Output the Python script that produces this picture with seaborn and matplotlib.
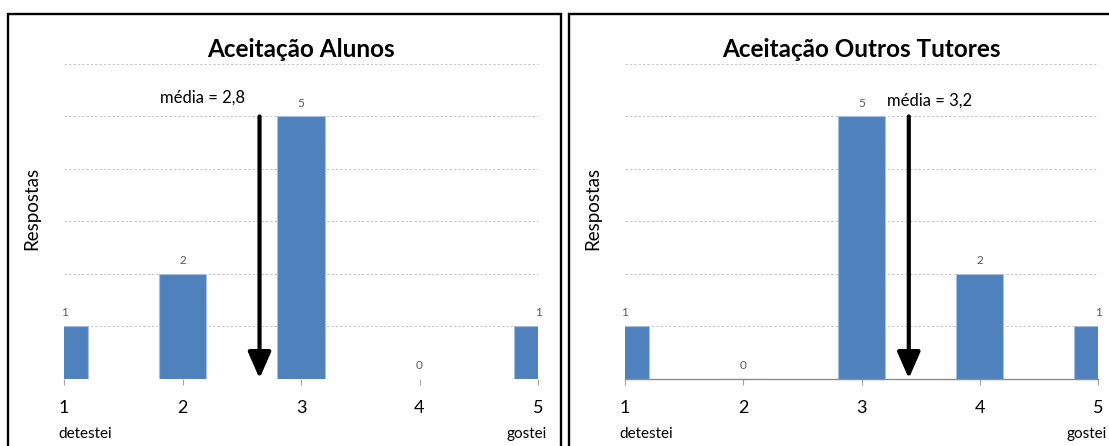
import matplotlib
matplotlib.use("Agg")
import matplotlib.pyplot as plt
from matplotlib.patches import Rectangle
import pandas as pd
import seaborn as sns

# Survey data: answers on a 1-5 scale
scores = [1, 2, 3, 4, 5]
alunos = [1, 2, 5, 0, 1]
tutores = [1, 0, 5, 2, 1]
titles = ["Aceitação Alunos", "Aceitação Outros Tutores"]
mean_labels = ["média = 2,8", "média = 3,2"]
arrow_x = [2.65, 3.4]
scale_ends = ["detestei", "gostei"]

sns.set_theme(style="white")
plt.rcParams["font.family"] = ["Lato", "DejaVu Sans"]

BAR = "#4F81BD"
GRID = "#C8C8C8"

fig = plt.figure(figsize=(11.09, 4.46), dpi=100)
W, H = 1109, 446

def px_axes(x0, x1, ytop, ybot):
    return fig.add_axes([x0 / W, (H - ybot) / H, (x1 - x0) / W, (ybot - ytop) / H])

axes = [px_axes(64, 538, 64, 378.5), px_axes(625, 1098, 64, 378.5)]

# panel frames
for x0, x1 in [(8, 561), (569, 1115)]:
    fig.patches.append(Rectangle((x0 / W, -0.05), (x1 - x0) / W, (H - 14) / H + 0.05,
                                 transform=fig.transFigure, fill=False,
                                 edgecolor="black", linewidth=1.7, zorder=10))

series = [alunos, tutores]
text_pos = [(1.81, 5.36, "left"), (3.215, 5.30, "left")]

for i, ax in enumerate(axes):
    df = pd.DataFrame({"nota": scores, "respostas": series[i]})
    sns.barplot(data=df, x="nota", y="respostas", native_scale=True, width=0.4,
                color=BAR, edgecolor="#A7BFDE", linewidth=0.8, saturation=1,
                ax=ax, zorder=3)
    ax.set_xlim(1, 5)
    ax.set_ylim(0, 6)
    ax.set_xticks(scores)
    ax.set_xticklabels([str(s) for s in scores], fontsize=13, color="black")
    ax.set_yticks(range(0, 7))
    ax.set_yticklabels([])
    ax.tick_params(axis="y", length=0)
    ax.tick_params(axis="x", length=4.5, width=0.8, color="#A6A6A6",
                   direction="out", pad=11, bottom=True)
    for y in range(1, 7):
        ax.axhline(y, color=GRID, lw=0.7, ls=(0, (2.5, 2)), zorder=1, clip_on=False)
    for side in ["top", "right", "left"]:
        ax.spines[side].set_visible(False)
    if i == 0:
        ax.spines["bottom"].set_visible(False)
    else:
        ax.spines["bottom"].set_color("#8C8C8C")
        ax.spines["bottom"].set_linewidth(1.0)
        ax.spines["bottom"].set_zorder(4)

    ax.set_xlabel("")
    ax.set_ylabel("Respostas", fontsize=13.5, color="black")
    ax.yaxis.set_label_coords(-0.05, 0.54)
    ax.set_title(titles[i], fontsize=17.5, fontweight="bold", pad=5, color="black")

    # value labels above each bar
    for x, v in zip(scores, series[i]):
        ax.annotate(str(v), xy=(x, v), xytext=(0, 9.5), textcoords="offset points",
                    ha="center", va="center", fontsize=8.5, color="#595959",
                    annotation_clip=False, zorder=5)

    # scale end descriptions under the tick labels
    ax.annotate(scale_ends[0], xy=(1, 0), xycoords=("data", "axes fraction"),
                xytext=(15, -40), textcoords="offset points",
                ha="center", va="center", fontsize=11, color="black",
                annotation_clip=False)
    ax.annotate(scale_ends[1], xy=(5, 0), xycoords=("data", "axes fraction"),
                xytext=(-8, -40), textcoords="offset points",
                ha="center", va="center", fontsize=11, color="black",
                annotation_clip=False)

    # mean indicator
    ax.annotate("", xy=(arrow_x[i], 0), xytext=(arrow_x[i], 5),
                arrowprops=dict(arrowstyle="-|>,head_length=1.6,head_width=0.7",
                                mutation_scale=10, lw=3, color="black",
                                shrinkA=0, shrinkB=0),
                annotation_clip=False, zorder=6)
    tx, ty, ha = text_pos[i]
    ax.text(tx, ty, mean_labels[i], ha=ha, va="center", fontsize=12, color="black")

fig.savefig("out.png", dpi=100)
